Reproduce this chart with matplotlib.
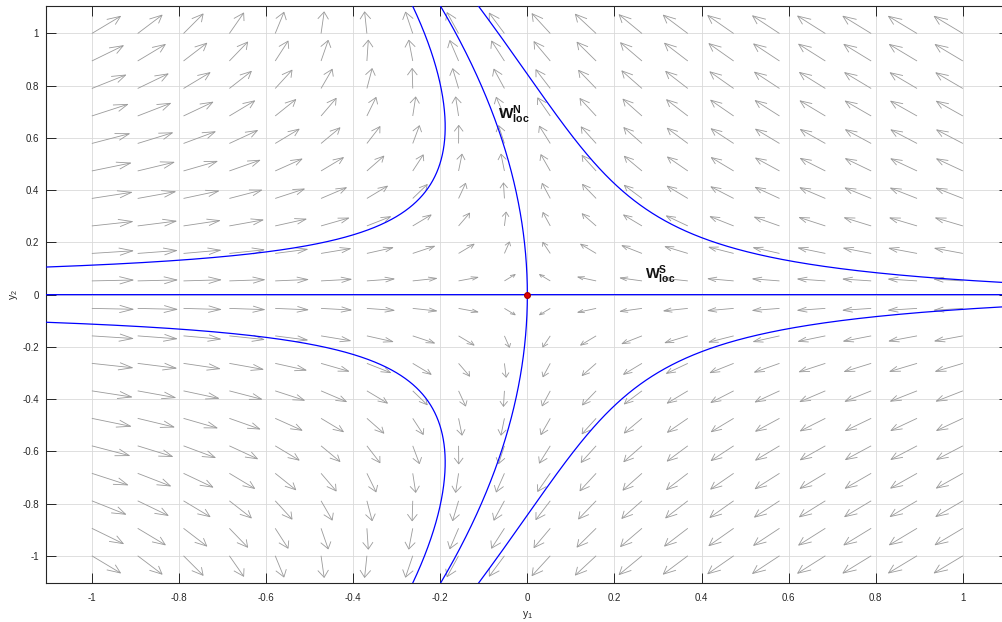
import numpy as np
import matplotlib
matplotlib.use("Agg")
import matplotlib.pyplot as plt
from matplotlib.collections import LineCollection

# ---------------- data ----------------
# vector field:  y1' = A1*y1 + B1*y1^2 + C1*y2^2 ,   y2' = D2*y2
A1, B1, C1 = -1.0, 0.5, -0.5
D2 = 1.0
n_grid = 20                     # quiver grid points per axis
grid_lo, grid_hi = -1.0, 1.0
# starting points of the drawn trajectories (read at the plot edges)
traj_y1 = [-1.1, -1.1, 1.1, 1.1]
traj_y2 = [0.106, -0.106, 0.046, -0.046]
tick_vals = [-1, -0.8, -0.6, -0.4, -0.2, 0, 0.2, 0.4, 0.6, 0.8, 1]
tick_labels = ['-1', '-0.8', '-0.6', '-0.4', '-0.2', '0', '0.2', '0.4', '0.6', '0.8', '1']
label_N = r'$\mathbf{W^{N}_{loc}}$'
label_S = r'$\mathbf{W^{S}_{loc}}$'
# --------------------------------------

plt.rcParams['font.family'] = ['Liberation Sans', 'DejaVu Sans']
plt.rcParams['mathtext.fontset'] = 'custom'
plt.rcParams['mathtext.rm'] = 'Liberation Sans'
plt.rcParams['mathtext.bf'] = 'Liberation Sans:bold'
plt.rcParams['mathtext.it'] = 'Liberation Sans:italic'
plt.rcParams['axes.unicode_minus'] = False


def field(y1, y2):
    return A1 * y1 + B1 * y1 ** 2 + C1 * y2 ** 2, D2 * y2


def integrate(p0, direction=1.0, dt=0.002, tmax=25.0, lim=1.2, stop_r=1e-4):
    y1, y2 = p0
    xs, ys = [y1], [y2]
    for _ in range(int(tmax / dt)):
        h = dt * direction
        k1 = field(y1, y2)
        k2 = field(y1 + 0.5 * h * k1[0], y2 + 0.5 * h * k1[1])
        k3 = field(y1 + 0.5 * h * k2[0], y2 + 0.5 * h * k2[1])
        k4 = field(y1 + h * k3[0], y2 + h * k3[1])
        y1 += h * (k1[0] + 2 * k2[0] + 2 * k3[0] + k4[0]) / 6
        y2 += h * (k1[1] + 2 * k2[1] + 2 * k3[1] + k4[1]) / 6
        xs.append(y1)
        ys.append(y2)
        if abs(y1) > lim or abs(y2) > lim or np.hypot(y1, y2) < stop_r:
            break
    return np.array(xs), np.array(ys)


fig = plt.figure(figsize=(10.03, 6.22), dpi=100)
ax = fig.add_axes([46 / 1003, (622 - 583.3) / 622, 962.7 / 1003, 577.3 / 622])

hstep = (grid_hi - grid_lo) / (n_grid - 1)
lim = grid_hi + hstep
ax.set_xlim(-lim, lim)
ax.set_ylim(-lim, lim)

# ---- quiver (MATLAB-style open arrowheads) ----
g = np.linspace(grid_lo, grid_hi, n_grid)
X, Y = np.meshgrid(g, g)
U, V = field(X, Y)
mag = np.hypot(U, V)
L = mag ** (1.0 / 3.0)
s = 0.9 * hstep / L.max()
u = U / mag * L * s
v = V / mag * L * s
alpha, beta = 0.33, 0.45
segs = []
for x0, y0, uu, vv in zip(X.ravel(), Y.ravel(), u.ravel(), v.ravel()):
    tx, ty = x0 + uu, y0 + vv
    segs.append([(x0, y0), (tx, ty)])
    segs.append([(tx - alpha * (uu + beta * vv), ty - alpha * (vv - beta * uu)),
                 (tx, ty),
                 (tx - alpha * (uu - beta * vv), ty - alpha * (vv + beta * uu))])
ax.add_collection(LineCollection(segs, colors='#9a9a9a', linewidths=0.6, zorder=2))

# ---- trajectories ----
blue = '#0000ff'
lw = 0.9
# stable manifold (y2 = 0)
for sx in (-1.2, 1.2):
    xs, ys = integrate((sx, 0.0))
    ax.plot(xs, ys, color=blue, lw=lw, zorder=3)
# unstable manifold
for sy in (1e-6, -1e-6):
    xs, ys = integrate((0.0, sy), stop_r=0.0)
    ax.plot(xs, ys, color=blue, lw=lw, zorder=3)
# other trajectories
for a, b in zip(traj_y1, traj_y2):
    xf, yf = integrate((a, b), 1.0)
    xb, yb = integrate((a, b), -1.0)
    ax.plot(np.concatenate([xb[::-1], xf]), np.concatenate([yb[::-1], yf]),
            color=blue, lw=lw, zorder=3)

# equilibrium
ax.plot([0], [0], 'o', ms=4.2, mfc='#e00000', mec='#a00000', mew=0.8, zorder=4)

# labels
ax.text(-0.067, 0.673, label_N, fontsize=11, ha='left', va='baseline', color='#111111', zorder=5)
ax.text(0.269, 0.06, label_S, fontsize=10.5, ha='left', va='baseline', color='#111111', zorder=5)

# axes styling
ax.set_xticks(tick_vals)
ax.set_xticklabels(tick_labels)
ax.set_yticks(tick_vals)
ax.set_yticklabels(tick_labels)
ax.tick_params(direction='in', length=7, width=0.7, top=True, right=True,
               colors='#262626', labelsize=7)
ax.tick_params(axis='x', pad=7)
ax.tick_params(axis='y', pad=5)
for sp in ax.spines.values():
    sp.set_color('#262626')
    sp.set_linewidth(0.8)
ax.grid(True, color='#d9d9d9', lw=0.6)
ax.set_axisbelow(True)
ax.set_xlabel(r'$\mathregular{y_1}$', fontsize=7.5, color='#262626', labelpad=4)
ax.set_ylabel(r'$\mathregular{y_2}$', fontsize=7.5, color='#262626', labelpad=2)

fig.savefig('out.png', dpi=100)
